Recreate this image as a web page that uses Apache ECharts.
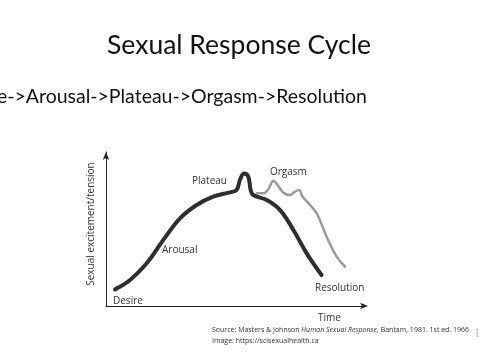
<!DOCTYPE html>
<html><head><meta charset="utf-8">
<script src="https://cdn.jsdelivr.net/npm/echarts@6/dist/echarts.min.js"></script>
<style>html,body{margin:0;padding:0;background:#fff}#c{width:480px;height:360px}</style>
</head><body><div id="c"></div>
<script>
// Main (black) curve: arousal -> plateau -> resolution
const blackX = [3.5, 9.4, 15.9, 22.4, 28.9, 35.4, 41.9, 48.4, 51.0, 52.3, 53.9, 55.6, 56.5, 57.5, 62.8, 68.0, 73.2, 78.4, 84.2];
const blackY = [10.8, 16.9, 27.7, 42.9, 56.9, 65.6, 71.0, 73.8, 75.3, 81.8, 86.1, 84.0, 75.3, 72.1, 68.8, 62.3, 49.4, 34.2, 20.1];
// Grey curve: multiple orgasm branch
const greyX = [58.9, 61.5, 63.4, 65.4, 67.3, 69.3, 71.9, 73.8, 75.4, 76.8, 79.7, 82.3, 86.2, 90.1, 93.4];
const greyY = [73.2, 73.2, 75.8, 81.4, 77.9, 73.6, 72.1, 74.2, 75.3, 71.0, 65.6, 60.2, 45.0, 32.0, 25.5];
const phaseLabels = ['Desire', 'Arousal', 'Plateau', 'Orgasm', 'Resolution'];
const titleText = 'Sexual Response Cycle';
const subtitleText = 'Desire->Arousal->Plateau->Orgasm->Resolution';
const xAxisName = 'Time';
const yAxisName = 'Sexual excitement/tension';

const zip = (xs, ys) => xs.map((x, i) => [x, ys[i]]);
const chart = echarts.init(document.getElementById('c'), null, {renderer: 'canvas'});
const lblFont = '"Open Sans", "DejaVu Sans", sans-serif';
const lblStyle = {fontFamily: lblFont, fontSize: 10, fill: '#333'};
chart.setOption({
  animation: false,
  backgroundColor: '#fff',
  grid: {left: 106, right: 118, top: 152, bottom: 54, containLabel: false},
  xAxis: {
    type: 'value', min: 0, max: 100,
    axisLine: {show: true, lineStyle: {color: '#222', width: 1}, symbol: ['none', 'arrow'], symbolSize: [5, 8], symbolOffset: [0, 6]},
    axisTick: {show: false}, axisLabel: {show: false}, splitLine: {show: false}
  },
  yAxis: {
    type: 'value', min: 0, max: 100,
    axisLine: {show: true, lineStyle: {color: '#222', width: 1}, symbol: ['none', 'arrow'], symbolSize: [5, 8], symbolOffset: [0, 0]},
    axisTick: {show: false}, axisLabel: {show: false}, splitLine: {show: false}
  },
  series: [
    {type: 'line', data: zip(greyX, greyY), smooth: 0.4, showSymbol: false, lineStyle: {color: '#9a9a9a', width: 2.5, cap: 'round'}, z: 2},
    {type: 'line', data: zip(blackX, blackY), smooth: 0.4, showSymbol: false, lineStyle: {color: '#2e2e2e', width: 4, cap: 'round'}, z: 3}
  ],
  graphic: [
    {type: 'text', x: 239, y: 45, style: {text: titleText, font: '26.5px Lato, "Open Sans", sans-serif', fill: '#111', align: 'center', verticalAlign: 'middle'}},
    {type: 'text', x: 367, y: 97, style: {text: subtitleText, font: '19.5px Lato, "Open Sans", sans-serif', fill: '#111', align: 'right', verticalAlign: 'middle'}},
    {type: 'text', x: 113, y: 301, style: Object.assign({text: phaseLabels[0], verticalAlign: 'middle'}, lblStyle)},
    {type: 'text', x: 162, y: 250, style: Object.assign({text: phaseLabels[1], verticalAlign: 'middle'}, lblStyle)},
    {type: 'text', x: 192, y: 181, style: Object.assign({text: phaseLabels[2], verticalAlign: 'middle'}, lblStyle)},
    {type: 'text', x: 270, y: 172, style: Object.assign({text: phaseLabels[3], verticalAlign: 'middle'}, lblStyle)},
    {type: 'text', x: 315, y: 288, style: Object.assign({text: phaseLabels[4], verticalAlign: 'middle'}, lblStyle)},
    {type: 'text', x: 318, y: 318, style: Object.assign({text: xAxisName, verticalAlign: 'middle'}, lblStyle)},
    {type: 'text', x: 91, y: 224, rotation: Math.PI / 2, style: Object.assign({text: yAxisName, align: 'center', verticalAlign: 'middle'}, lblStyle)},
    {type: 'text', x: 212, y: 330, style: {rich: {n: {fontFamily: lblFont, fontSize: 7, fill: '#333'}, i: {fontFamily: lblFont, fontSize: 7, fontStyle: 'italic', fill: '#333'}}, text: '{n|Source: Masters & Johnson }{i|Human Sexual Response}{n|, Bantam, 1981. 1st ed. 1966}', verticalAlign: 'middle'}},
    {type: 'text', x: 212, y: 341, style: {text: 'Image: https://scisexualhealth.ca', fontFamily: lblFont, fontSize: 7, fill: '#333', verticalAlign: 'middle'}},
    {type: 'text', x: 476, y: 333, style: {text: '[', fontFamily: lblFont, fontSize: 9, fill: '#999', verticalAlign: 'middle'}}
  ]
});
</script></body></html>
